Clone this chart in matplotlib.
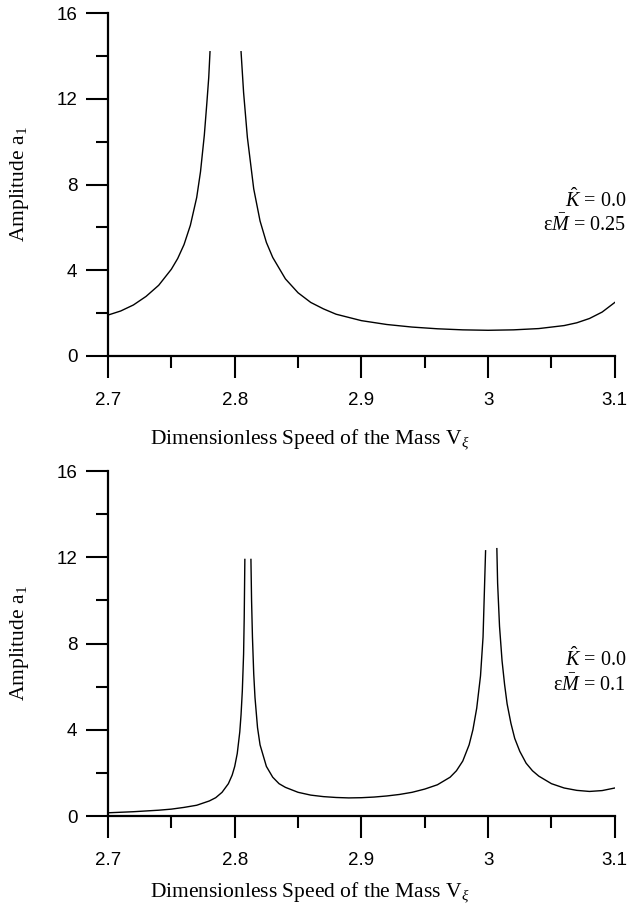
import numpy as np
from matplotlib import pyplot as plt

# valores - panel superior (eM = 0.25)
v1_izq = [2.700, 2.710, 2.720, 2.730, 2.740, 2.750, 2.755, 2.760, 2.765, 2.770,
          2.773, 2.776, 2.778, 2.7795, 2.7805]
a1_izq = [1.91, 2.10, 2.38, 2.78, 3.30, 4.05, 4.55, 5.20, 6.10, 7.40,
          8.60, 10.3, 11.8, 13.0, 14.2]
v1_der = [2.805, 2.807, 2.810, 2.815, 2.820, 2.825, 2.830, 2.840, 2.850, 2.860, 2.870,
          2.880, 2.900, 2.920, 2.940, 2.960, 2.980, 3.000, 3.020, 3.040, 3.060,
          3.070, 3.080, 3.090, 3.100]
a1_der = [14.2, 12.3, 10.2, 7.8, 6.3, 5.3, 4.6, 3.6, 2.95, 2.5, 2.2,
          1.95, 1.65, 1.47, 1.35, 1.27, 1.22, 1.2, 1.22, 1.28, 1.42,
          1.55, 1.75, 2.05, 2.5]

# panel inferior (eM = 0.1)
v2_a = [2.700, 2.720, 2.740, 2.750, 2.760, 2.770, 2.780, 2.785, 2.790, 2.795, 2.798,
        2.800, 2.802, 2.804, 2.805, 2.806, 2.807, 2.8075, 2.808]
a2_a = [0.15, 0.2, 0.27, 0.32, 0.4, 0.5, 0.7, 0.85, 1.1, 1.5, 1.9,
        2.3, 2.9, 3.9, 4.7, 5.8, 7.5, 9.2, 11.9]
v2_b = [2.8128, 2.8133, 2.814, 2.815, 2.816, 2.818, 2.820, 2.825, 2.830, 2.835, 2.840,
        2.850, 2.860, 2.870, 2.880, 2.890, 2.900, 2.910, 2.920, 2.930, 2.940, 2.950,
        2.960, 2.970, 2.975, 2.980, 2.985, 2.988, 2.991, 2.994, 2.996, 2.998]
a2_b = [11.9, 10.0, 8.3, 6.6, 5.5, 4.1, 3.3, 2.3, 1.8, 1.5, 1.33,
        1.1, 0.97, 0.9, 0.86, 0.84, 0.85, 0.88, 0.93, 1.0, 1.1, 1.25,
        1.45, 1.8, 2.1, 2.55, 3.3, 4.0, 5.0, 6.5, 8.3, 12.3]
v2_c = [3.0069, 3.0075, 3.009, 3.011, 3.013, 3.015, 3.018, 3.021, 3.025, 3.030,
        3.035, 3.040, 3.050, 3.060, 3.070, 3.080, 3.090, 3.100]
a2_c = [12.4, 10.8, 8.8, 7.2, 6.1, 5.2, 4.3, 3.6, 3.0, 2.45,
        2.1, 1.85, 1.5, 1.3, 1.19, 1.14, 1.18, 1.3]

xticks = [2.7, 2.8, 2.9, 3.0, 3.1]
xlabels = ['2.7', '2.8', '2.9', '3', '3.1']
yticks = [0, 4, 8, 12, 16]

plt.rcParams['mathtext.fontset'] = 'custom'
plt.rcParams['mathtext.rm'] = 'Liberation Serif'
plt.rcParams['mathtext.it'] = 'Liberation Serif:italic'

fig = plt.figure(figsize=(6.28, 9.07), dpi=100)

def ejes(pos, texto, ylab):
  ax = fig.add_axes(pos)
  ax.set_xlim(2.7, 3.1)
  ax.set_ylim(0, 16)
  for s in ['top', 'right']:
    ax.spines[s].set_visible(False)
  for s in ['left', 'bottom']:
    ax.spines[s].set_linewidth(1.6)
  ax.set_xticks(xticks)
  ax.set_xticklabels(xlabels)
  ax.set_xticks([2.75, 2.85, 2.95, 3.05], minor=True)
  ax.set_yticks(yticks)
  ax.set_yticks([2, 6, 10, 14], minor=True)
  ax.tick_params(which='major', direction='out', length=16, width=1.5, labelsize=13.5)
  ax.tick_params(which='minor', direction='out', length=8.5, width=1.5)
  ax.tick_params(axis='x', which='major', pad=10)
  ax.tick_params(axis='y', which='major', pad=6)
  for t in ax.get_xticklabels() + ax.get_yticklabels():
    t.set_fontfamily('Liberation Sans')
  ax.set_xlabel(r'Dimensionless Speed of the Mass V$_\xi$', fontsize=15.5,
                fontfamily='Liberation Serif', va='baseline')
  ax.xaxis.set_label_coords(0.398, ylab)
  ax.set_ylabel(r'Amplitude a$_1$', fontsize=15.5, fontfamily='Liberation Serif')
  ax.yaxis.set_label_coords(-0.152, 0.5)
  ax.text(1.022, 0.455, r'$\hat{K}$ = 0.0', transform=ax.transAxes, ha='right', va='center',
          fontsize=14.5, fontfamily='Liberation Serif')
  ax.text(1.022, 0.38, texto, transform=ax.transAxes, ha='right', va='center',
          fontsize=14.5, fontfamily='Liberation Serif')
  return ax

ax1 = ejes([0.172, 0.6075, 0.807, 0.378], r'ε$\bar{M}$ = 0.25', -0.262)
ax1.plot(v1_izq, a1_izq, color='black', linewidth=1.0)
ax1.plot(v1_der, a1_der, color='black', linewidth=1.0)

ax2 = ejes([0.172, 0.1003, 0.807, 0.3804], r'ε$\bar{M}$ = 0.1', -0.238)
ax2.plot(v2_a, a2_a, color='black', linewidth=1.0)
ax2.plot(v2_b, a2_b, color='black', linewidth=1.0)
ax2.plot(v2_c, a2_c, color='black', linewidth=1.0)

plt.savefig('out.png', dpi=100)
